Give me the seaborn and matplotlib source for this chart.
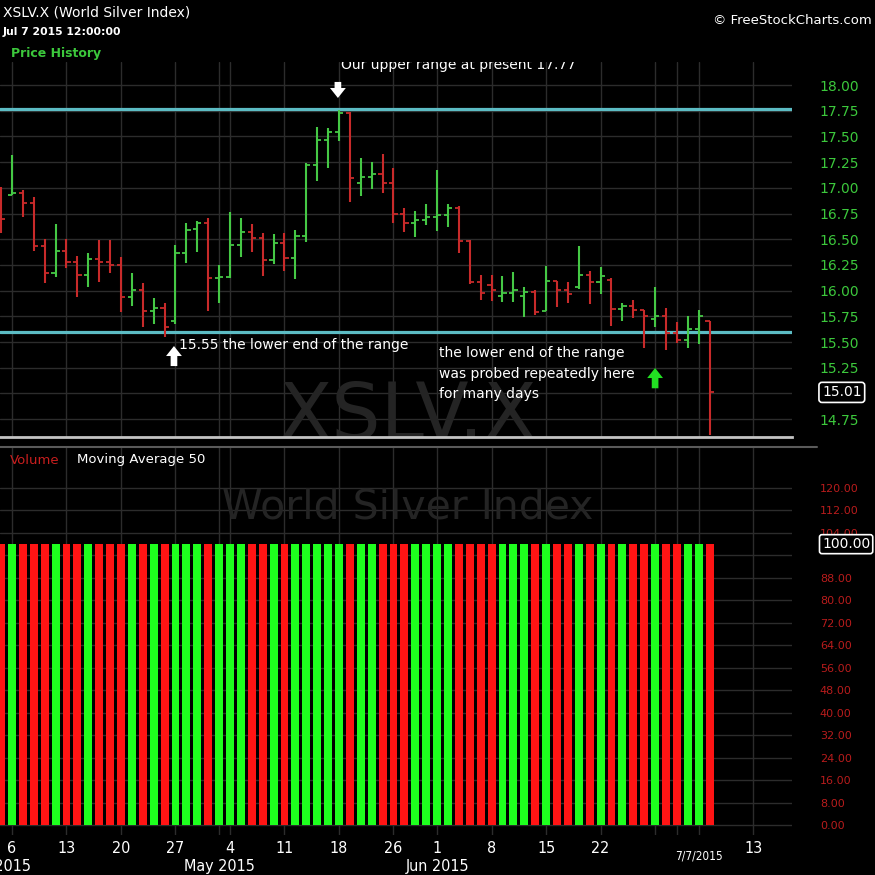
import matplotlib
matplotlib.use("Agg")
import matplotlib.pyplot as plt
import matplotlib.transforms as mtransforms
from matplotlib.lines import Line2D
import numpy as np
import pandas as pd
import seaborn as sns

# daily OHLC, XSLV.X, trading days 2 Apr 2015 (index 0) .. 7 Jul 2015 (index 65)
opens = [16.80, 16.93, 16.95, 16.85, 16.43, 16.17, 16.39, 16.28, 16.15, 16.31,
         16.28, 16.25, 15.94, 16.01, 15.80, 15.83, 15.70, 16.37, 16.60, 16.66,
         16.12, 16.13, 16.44, 16.57, 16.51, 16.30, 16.46, 16.32, 16.53, 17.22,
         17.47, 17.54, 17.73, 17.05, 17.11, 17.13, 17.05, 16.75, 16.66, 16.69,
         16.72, 16.74, 16.80, 16.48, 16.08, 16.05, 15.95, 15.98, 15.95, 15.99,
         15.80, 16.09, 16.01, 16.04, 16.15, 16.08, 16.10, 15.82, 15.85, 15.81,
         15.72, 15.75, 15.59, 15.52, 15.63, 15.70]
highs = [17.01, 17.32, 16.98, 16.91, 16.50, 16.65, 16.50, 16.34, 16.37, 16.49,
         16.49, 16.33, 16.17, 16.07, 15.93, 15.88, 16.44, 16.66, 16.68, 16.71,
         16.25, 16.76, 16.71, 16.65, 16.56, 16.55, 16.56, 16.59, 17.24, 17.59,
         17.58, 17.76, 17.74, 17.29, 17.25, 17.33, 17.19, 16.80, 16.77, 16.84,
         17.17, 16.84, 16.82, 16.49, 16.15, 16.15, 16.14, 16.18, 16.04, 16.01,
         16.24, 16.09, 16.08, 16.43, 16.19, 16.23, 16.12, 15.88, 15.91, 15.81,
         16.04, 15.83, 15.69, 15.75, 15.81, 15.70]
lows = [16.56, 16.93, 16.72, 16.39, 16.07, 16.13, 16.22, 15.94, 16.04, 16.08,
        16.17, 15.79, 15.85, 15.65, 15.68, 15.55, 15.68, 16.27, 16.38, 15.80,
        15.88, 16.12, 16.33, 16.38, 16.14, 16.26, 16.19, 16.11, 16.47, 17.07,
        17.19, 17.46, 16.86, 16.92, 16.99, 16.95, 16.66, 16.57, 16.52, 16.64,
        16.58, 16.62, 16.37, 16.06, 15.91, 15.90, 15.89, 15.89, 15.74, 15.76,
        15.80, 15.84, 15.88, 16.02, 15.87, 15.97, 15.66, 15.70, 15.73, 15.44,
        15.65, 15.42, 15.49, 15.44, 15.48, 14.60]
closes = [16.70, 16.95, 16.85, 16.43, 16.17, 16.39, 16.28, 16.15, 16.31, 16.28,
          16.25, 15.94, 16.01, 15.80, 15.83, 15.65, 16.37, 16.59, 16.66, 16.12,
          16.13, 16.44, 16.57, 16.51, 16.30, 16.46, 16.32, 16.53, 17.22, 17.47,
          17.54, 17.73, 17.10, 17.11, 17.13, 17.05, 16.75, 16.66, 16.69, 16.72,
          16.74, 16.80, 16.48, 16.08, 15.98, 16.01, 15.98, 16.01, 15.99, 15.79,
          16.09, 16.01, 15.97, 16.15, 16.08, 16.14, 15.82, 15.85, 15.81, 15.75,
          15.75, 15.59, 15.52, 15.63, 15.75, 15.01]
volume = [100, 100, 100, 100, 100, 100, 100, 100, 100, 100, 100,
          100, 100, 100, 100, 100, 100, 100, 100, 100, 100, 100,
          100, 100, 100, 100, 100, 100, 100, 100, 100, 100, 100,
          100, 100, 100, 100, 100, 100, 100, 100, 100, 100, 100,
          100, 100, 100, 100, 100, 100, 100, 100, 100, 100, 100,
          100, 100, 100, 100, 100, 100, 100, 100, 100, 100, 100]

upper_range = 17.77
lower_range = 15.60
last_price = 15.01
last_volume = 100.00

# x axis: week starts / month starts (bar index) and their labels
grid_days = [1, 6, 11, 16, 20, 21, 26, 31, 36, 40, 45, 50, 55, 60, 62, 64, 69]
grid_labels = ["6", "13", "20", "27", "", "4", "11", "18", "26", "1", "8", "15", "22", "", "", "", "13"]
month_days = [-0.25, 20, 40]
month_labels = ["Apr 2015", "May 2015", "Jun 2015"]
price_ticks = [14.75, 15.00, 15.25, 15.50, 15.75, 16.00, 16.25, 16.50, 16.75,
               17.00, 17.25, 17.50, 17.75, 18.00]
price_labels = ["14.75", "", "15.25", "15.50", "15.75", "16.00", "16.25", "16.50", "16.75",
                "17.00", "17.25", "17.50", "17.75", "18.00"]
volume_ticks = [0, 8, 16, 24, 32, 40, 48, 56, 64, 72, 80, 88, 96, 104, 112, 120]
volume_labels = ["0.00", "8.00", "16.00", "24.00", "32.00", "40.00", "48.00", "56.00",
                 "64.00", "72.00", "80.00", "88.00", "", "104.00", "112.00", "120.00"]

sns.set_theme(style="dark", rc={"axes.facecolor": "black", "figure.facecolor": "black"})
plt.rcParams["font.family"] = ["DejaVu Sans"]

GREEN, RED = "#45c845", "#c82a2a"
VGREEN, VRED = "#1eff1e", "#ff1414"
GRID = "#2c2c2c"
WM = "#242424"

day = np.arange(len(closes))
df = pd.DataFrame({"day": day, "open": opens, "high": highs, "low": lows,
                   "close": closes, "volume": volume})
df["dir"] = np.where(df["close"] >= df["open"], "up", "down")
cols = df["dir"].map({"up": GREEN, "down": RED})

W, H = 875, 875
fig = plt.figure(figsize=(8.75, 8.75), dpi=100, facecolor="black")
ax = fig.add_axes([0, 1 - 437 / H, 792 / W, (437 - 62) / H])
ax2 = fig.add_axes([0, 1 - 835 / H, 792 / W, (835 - 447) / H], sharex=ax)

# ---- price panel ----
ax.vlines(df["day"], df["low"], df["high"], colors=cols, lw=1.5, zorder=3)
ax.hlines(df["open"], df["day"] - 0.38, df["day"], colors=cols, lw=1.3, zorder=3)
ax.hlines(df["close"], df["day"], df["day"] + 0.38, colors=cols, lw=1.3, zorder=3)
ax.axhline(upper_range, color="#5cbcc4", lw=2.3, zorder=2)
ax.axhline(lower_range, color="#5cbcc4", lw=2.3, zorder=2)

ax.set_ylim(14.576, 18.224)
ax.set_xlim(-0.1, 72.56)
ax.set_yticks(price_ticks)
ax.set_yticklabels(price_labels)
ax.yaxis.tick_right()
ax.tick_params(axis="y", length=0, pad=20, labelsize=10, labelcolor="#3cc83c")
ax.tick_params(axis="x", length=0, labelbottom=False)
ax.grid(True, color=GRID, lw=1)
for s in ["top", "left", "right"]:
    ax.spines[s].set_visible(False)
ax.spines["bottom"].set_color("#c4c4c4")
ax.spines["bottom"].set_linewidth(2)

ax.text(37.3, 14.556, "XSLV.X", ha="center", va="baseline", fontsize=56,
        color=WM, zorder=1, clip_on=True)

ax.text(31.2, 18.19, "Our upper range at present 17.77", color="white", fontsize=10,
        va="center", ha="left", clip_on=True, zorder=5)
ax.text(16.34, 15.47, "15.55 the lower end of the range", color="white", fontsize=10,
        va="center", ha="left", zorder=5)
ax.text(40.2, 15.393, "the lower end of the range", color="white", fontsize=10, va="center", zorder=5)
ax.text(40.2, 15.189, "was probed repeatedly here", color="white", fontsize=10, va="center", zorder=5)
ax.text(40.2, 14.994, "for many days", color="white", fontsize=10, va="center", zorder=5)

arrow = "simple,head_length=0.6,head_width=0.95,tail_width=0.4"
ax.annotate("", xy=(30.9, 17.874), xytext=(30.9, 18.03),
            arrowprops=dict(arrowstyle=arrow, fc="white", ec="none", mutation_scale=12,
                            shrinkA=0, shrinkB=0), zorder=6)
ax.annotate("", xy=(15.86, 15.461), xytext=(15.86, 15.266),
            arrowprops=dict(arrowstyle=arrow, fc="white", ec="none", mutation_scale=12,
                            shrinkA=0, shrinkB=0), zorder=6)
ax.annotate("", xy=(60.0, 15.247), xytext=(60.0, 15.05),
            arrowprops=dict(arrowstyle=arrow, fc="#22e022", ec="none", mutation_scale=12,
                            shrinkA=0, shrinkB=0), zorder=6)

trans = mtransforms.blended_transform_factory(ax.transAxes, ax.transData)
ax.text(822 / 792, last_price, f"{last_price:.2f}", transform=trans, color="white",
        fontsize=10, va="center", ha="left", zorder=10, clip_on=False,
        bbox=dict(boxstyle="round,pad=0.22", fc="black", ec="white", lw=1.2))

# ---- volume panel ----
sns.barplot(data=df, x="day", y="volume", hue="dir", palette={"up": VGREEN, "down": VRED},
            native_scale=True, dodge=False, width=0.72, saturation=1, errorbar=None,
            legend=False, ax=ax2, zorder=3, linewidth=0, edgecolor="none")
ax2.set_xlabel("")
ax2.set_ylabel("")
ax2.set_ylim(-3.56, 134.6)
ax2.set_xlim(-0.1, 72.56)
ax2.set_yticks(volume_ticks)
ax2.set_yticklabels(volume_labels)
ax2.yaxis.tick_right()
ax2.tick_params(axis="y", length=0, pad=20, labelsize=8, labelcolor="#b81c1c")
ax2.set_xticks(grid_days)
ax2.set_xticklabels(grid_labels)
ax2.tick_params(axis="x", length=0, pad=4, labelsize=11.5, labelcolor="white")
for lab in ax2.get_xticklabels():
    lab.set_fontstretch("condensed")
ax2.grid(True, color=GRID, lw=1)
ax2.set_axisbelow(True)
for s in ax2.spines.values():
    s.set_visible(False)

ax2.text(37.3, 109.3, "World Silver Index", ha="center", va="baseline", fontsize=29.5,
         color=WM, zorder=1)
ax2.text(10 / 792, 1 - 13 / 388, "Volume", transform=ax2.transAxes, color="#c81e1e",
         fontsize=9.5, va="center", ha="left")
ax2.text(77 / 792, 1 - 13 / 388, "Moving Average 50", transform=ax2.transAxes,
         color="white", fontsize=9.5, va="center", ha="left")

trans2 = mtransforms.blended_transform_factory(ax2.transAxes, ax2.transData)
ax2.text(822 / 792, last_volume, f"{last_volume:.2f}", transform=trans2, color="white",
         fontsize=10, va="center", ha="left", zorder=10, clip_on=False,
         bbox=dict(boxstyle="round,pad=0.18", fc="black", ec="white", lw=1.2))

tx = mtransforms.blended_transform_factory(ax2.transData, ax2.transAxes)
for d, lab in zip(month_days, month_labels):
    ax2.text(d, -(867 - 835) / 388, lab, transform=tx, color="white", fontsize=11.5,
             fontstretch="condensed", ha="center", va="center", clip_on=False)
ax2.text(64.0, -(856 - 835) / 388, "7/7/2015", transform=tx, color="white", fontsize=8.5,
         fontstretch="condensed", ha="center", va="center", clip_on=False)

# ---- header ----
fig.add_artist(Line2D([0, 817 / W], [1 - 447 / H, 1 - 447 / H], color="#5a5a5a", lw=1.5))
fig.text(3 / W, 1 - 12 / H, "XSLV.X (World Silver Index)", color="white", fontsize=10,
         va="center", ha="left")
fig.text(3 / W, 1 - 32 / H, "Jul 7 2015 12:00:00", color="white", fontsize=7.8,
         weight="bold", va="center", ha="left")
fig.text(11 / W, 1 - 53 / H, "Price History", color="#3cc83c", fontsize=9,
         weight="bold", va="center", ha="left")
fig.text(872 / W, 1 - 20 / H, "\u00a9 FreeStockCharts.com", color="white", fontsize=9.5,
         va="center", ha="right")

fig.savefig("out.png", dpi=100, facecolor="black")
